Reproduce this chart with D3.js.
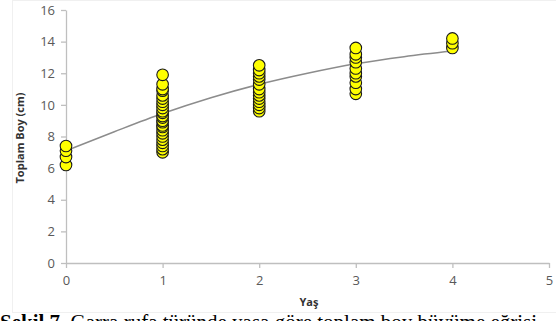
<!DOCTYPE html>
<html><head><meta charset="utf-8">
<script src="https://cdn.jsdelivr.net/npm/d3@7"></script>
<style>body{margin:0;background:#fff;overflow:hidden}svg{display:block}</style>
</head><body>
<svg id="c" width="556" height="321"></svg>
<script>
const ages = [0, 1, 2, 3, 4];
const lengths0 = [6.2, 6.7, 7.1, 7.4];
const lengths1 = [7.0, 7.2, 7.4, 7.6, 7.8, 8.0, 8.2, 8.4, 8.6, 8.7, 8.9, 9.0, 9.2, 9.3, 9.5, 9.6, 9.8, 10.0, 10.2, 10.4, 10.6, 10.9, 11.0, 11.3, 11.9];
const lengths2 = [9.6, 9.8, 10.0, 10.2, 10.4, 10.6, 10.8, 11.0, 11.3, 11.6, 11.8, 12.0, 12.2, 12.5];
const lengths3 = [10.7, 11.0, 11.4, 11.8, 12.0, 12.3, 12.7, 13.0, 13.2, 13.6];
const lengths4 = [13.6, 13.9, 14.2];
const curveX = [0, 0.5, 1, 1.5, 2, 2.5, 3, 3.5, 4];
const curveY = [7.1, 8.3, 9.45, 10.45, 11.3, 12.0, 12.6, 13.05, 13.4];
const xTicks = [0, 1, 2, 3, 4, 5];
const yTicks = [0, 2, 4, 6, 8, 10, 12, 14, 16];
const xTitle = "Yaş";
const yTitle = "Toplam Boy (cm)";
const captionBold = "Şekil 7.";
const captionRest = " Garra rufa türünde yaşa göre toplam boy büyüme eğrisi";

const groups = [lengths0, lengths1, lengths2, lengths3, lengths4];
const points = [];
groups.forEach((g, i) => g.forEach(v => points.push({x: ages[i], y: v})));

const svg = d3.select("#c");
svg.append("rect").attr("x", 12.5).attr("y", 0.5).attr("width", 556).attr("height", 312)
  .attr("fill", "#fff").attr("stroke", "#f0f0f0");

const x = d3.scaleLinear().domain([0, 5]).range([66, 549]);
const y = d3.scaleLinear().domain([0, 16]).range([263, 10]);

const font = "'Open Sans', 'DejaVu Sans', sans-serif";

const xa = svg.append("g").attr("transform", "translate(0,263)")
  .call(d3.axisBottom(x).tickValues(xTicks).tickFormat(d3.format("d")).tickSizeInner(5).tickSizeOuter(0).tickPadding(8));
const ya = svg.append("g").attr("transform", "translate(66,0)")
  .call(d3.axisLeft(y).tickValues(yTicks).tickFormat(d3.format("d")).tickSizeInner(5).tickSizeOuter(0).tickPadding(6));
[xa, ya].forEach(a => {
  a.select(".domain").attr("stroke", "#bfbfbf").attr("stroke-width", 1.3);
  a.selectAll(".tick line").attr("stroke", "#bfbfbf").attr("stroke-width", 1.3);
  a.selectAll(".tick text").attr("fill", "#595959").style("font-family", font).style("font-size", "13px");
});

svg.append("text").attr("x", 309).attr("y", 306).attr("text-anchor", "middle")
  .style("font-family", font).style("font-size", "11px").style("font-weight", "bold").attr("fill", "#333")
  .text(xTitle);
svg.append("text").attr("transform", "translate(24,138) rotate(-90)").attr("text-anchor", "middle")
  .style("font-family", font).style("font-size", "11px").style("font-weight", "bold").attr("fill", "#333")
  .text(yTitle);

const line = d3.line().x((d, i) => x(curveX[i])).y(d => y(d)).curve(d3.curveMonotoneX);
svg.append("path").attr("d", line(curveY)).attr("fill", "none").attr("stroke", "#8c8c8c").attr("stroke-width", 1.5);

svg.append("g").selectAll("circle").data(points).join("circle")
  .attr("cx", d => x(d.x)).attr("cy", d => y(d.y)).attr("r", 5.8)
  .attr("fill", "#ffff00").attr("stroke", "#1a1a1a").attr("stroke-width", 1.1);

const cap = svg.append("text").attr("x", 0).attr("y", 329)
  .style("font-family", "'Liberation Serif', 'DejaVu Serif', serif").style("font-size", "21px").attr("fill", "#000");
cap.append("tspan").style("font-weight", "bold").text(captionBold);
cap.append("tspan").text(captionRest);
</script>
</body></html>
